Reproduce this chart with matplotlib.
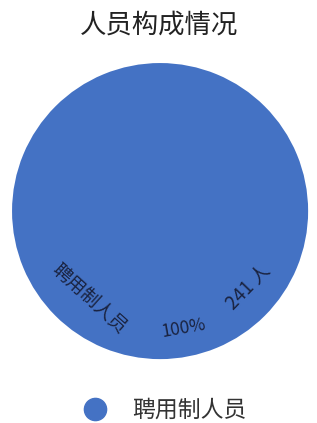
import matplotlib
matplotlib.use("Agg")
import matplotlib.pyplot as plt
from matplotlib.lines import Line2D

plt.rcParams['font.family'] = ['Noto Sans CJK SC', 'DejaVu Sans']

categories = ['聘用制人员']
counts = [241]
colors = ['#4472c4']

fig = plt.figure(figsize=(3.17, 4.23), dpi=100)
fig.text(0.5, 0.94, '人员构成情况', ha='center', va='center', fontsize=19, color='#222222')

ax = fig.add_axes([0.038, 0.151, 0.934, 0.700])
ax.pie(counts, colors=colors, startangle=90, counterclock=False)
ax.set_xlim(-1, 1)
ax.set_ylim(-1, 1)
ax.set_aspect('equal')

total = sum(counts)
pct = counts[0] / total * 100
tc = '#1a2340'
ax.text(-0.48, -0.59, categories[0], rotation=-42, ha='center', va='center', fontsize=13.5, color=tc)
ax.text(0.16, -0.79, f'{pct:.0f}%', rotation=10, ha='center', va='center', fontsize=12.5, color=tc)
ax.text(0.60, -0.52, f'{counts[0]} 人', rotation=46, ha='center', va='center', fontsize=13.5, color=tc)

handles = [Line2D([], [], marker='o', linestyle='', markersize=16, color=c) for c in colors]
fig.legend(handles, categories, loc='center', bbox_to_anchor=(0.502, 0.03), frameon=False,
           fontsize=16.5, handletextpad=0.6, labelcolor='#333333')

fig.savefig('out.png', dpi=100)
